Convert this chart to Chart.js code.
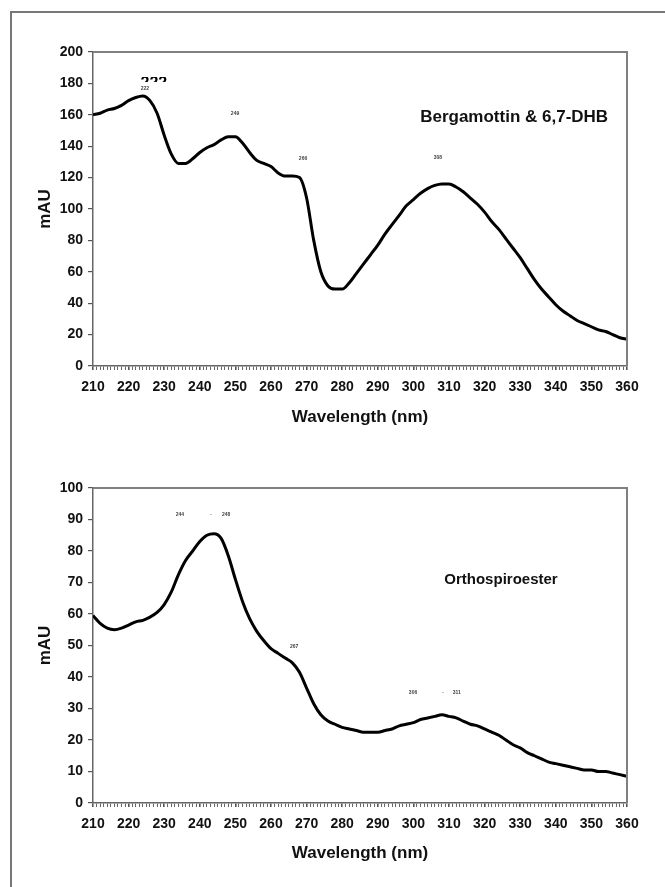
<!DOCTYPE html>
<html>
<head>
<meta charset="utf-8">
<script src="https://cdn.jsdelivr.net/npm/chart.js@4.4.1/dist/chart.umd.min.js"></script>
<style>
  html, body { margin: 0; padding: 0; background: #fff; overflow: hidden; }
  body { width: 665px; height: 887px; position: relative; }
  #frame { position: absolute; left: 10px; top: 11px; width: 700px; height: 900px; border: 2px solid #777; }
  canvas { position: absolute; left: 0; }
  #topChart { top: 30px; }
  #bottomChart { top: 466px; }
</style>
</head>
<body>
<div id="frame"></div>
<canvas id="topChart" width="665" height="410"></canvas>
<canvas id="bottomChart" width="665" height="410"></canvas>
<script>
// wavelengths (nm), shared by both spectra
const wavelengths = [210, 212, 214, 216, 218, 220, 222, 224, 226, 228, 230, 232, 234, 236, 238, 240, 242, 244, 246, 248,
    250, 252, 254, 256, 258, 260, 262, 264, 266, 268, 270, 272, 274, 276, 278, 280, 282, 284, 286, 288,
    290, 292, 294, 296, 298, 300, 302, 304, 306, 308, 310, 312, 314, 316, 318, 320, 322, 324, 326, 328,
    330, 332, 334, 336, 338, 340, 342, 344, 346, 348, 350, 352, 354, 356, 358, 360];

// Bergamottin & 6,7-DHB (mAU)
const topAbs = [160, 161, 163, 164, 166, 169, 171, 172, 169, 161, 147, 135, 129, 129, 132, 136, 139, 141, 144, 146,
    146, 142, 136, 131, 129, 127, 123, 121, 121, 120, 107, 80, 60, 51, 49, 49, 53, 59, 65, 71,
    77, 84, 90, 96, 102, 106, 110, 113, 115, 116, 116, 114, 111, 107, 103, 98, 92, 87, 81, 75,
    69, 62, 55, 49, 44, 39, 35, 32, 29, 27, 25, 23, 22, 20, 18, 17];

// Orthospiroester (mAU)
const bottomAbs = [59.5, 57, 55.5, 55, 55.5, 56.5, 57.5, 58, 59, 60.5, 63, 67, 72.5, 77, 80, 83, 85, 85.5, 84, 78.5,
    71, 64, 58.5, 54.5, 51.5, 49, 47.5, 46, 44.5, 41.5, 36.5, 31.5, 28, 26, 25, 24, 23.5, 23, 22.5, 22.5,
    22.5, 23, 23.5, 24.5, 25, 25.5, 26.5, 27, 27.5, 28, 27.5, 27, 26, 25, 24.5, 23.5, 22.5, 21.5, 20, 18.5,
    17.5, 16, 15, 14, 13, 12.5, 12, 11.5, 11, 10.5, 10.5, 10, 10, 9.5, 9, 8.5];

// small peak labels (text, wavelength, mAU)
const topPeakText = ['222', '249', '266', '308'];
const topPeakX = [224.6, 249.9, 269, 306.9];
const topPeakY = [176.4, 161, 131.8, 133];

const bottomPeakText = ['244', '-', '248', '267', '306', '-', '311'];
const bottomPeakX = [234.4, 243.1, 247.4, 266.5, 299.9, 308.3, 312.2];
const bottomPeakY = [91.4, 91.4, 91.4, 49.5, 35, 35, 35];

const xTickStep = 1;
const topYMax = 200, topYStep = 20;
const bottomYMax = 100, bottomYStep = 10;

const FONT = '"Liberation Sans", Arial, sans-serif';

const overlay = {
    id: 'overlay',
    afterDatasetsDraw(chart, args, o) {
        const { ctx, chartArea: a, scales: { x, y } } = chart;
        ctx.save();
        // top and right edges of the plot box
        ctx.strokeStyle = '#808080';
        ctx.lineWidth = 2;
        ctx.beginPath();
        ctx.moveTo(a.left, a.top);
        ctx.lineTo(a.right, a.top);
        ctx.lineTo(a.right, a.bottom);
        ctx.stroke();

        ctx.textAlign = 'center';
        ctx.textBaseline = 'middle';
        ctx.fillStyle = '#444';
        ctx.font = 'bold 5px ' + FONT;
        o.peakText.forEach((t, i) => {
            ctx.fillText(t, x.getPixelForValue(o.peakX[i]), y.getPixelForValue(o.peakY[i]));
        });

        ctx.fillStyle = '#111';
        ctx.font = 'bold ' + o.nameSize + 'px ' + FONT;
        ctx.fillText(o.name, x.getPixelForValue(o.nameX), y.getPixelForValue(o.nameY));

        if (o.ghost) {
            // half-hidden large label above the first peak
            const gx = x.getPixelForValue(o.ghost.x);
            const gy = y.getPixelForValue(o.ghost.y);
            ctx.beginPath();
            ctx.rect(gx - 20, gy, 40, 5);
            ctx.clip();
            ctx.fillStyle = '#000';
            ctx.font = 'bold 16px ' + FONT;
            ctx.textBaseline = 'top';
            ctx.fillText(o.ghost.text, gx, gy - 2);
        }
        ctx.restore();
    }
};

function makeChart(id, values, yMax, yStep, axisH, padTop, extra) {
    const ctx = document.getElementById(id).getContext('2d');
    return new Chart(ctx, {
        type: 'line',
        data: {
            datasets: [{
                data: wavelengths.map((w, i) => ({ x: w, y: values[i] })),
                borderColor: '#000',
                borderWidth: 3,
                pointRadius: 0,
                fill: false,
                cubicInterpolationMode: 'monotone'
            }]
        },
        options: {
            responsive: false,
            animation: false,
            devicePixelRatio: 1,
            layout: { padding: { top: padTop, right: 38, left: 0, bottom: 0 } },
            plugins: {
                legend: { display: false },
                tooltip: { enabled: false },
                overlay: extra
            },
            scales: {
                x: {
                    type: 'linear',
                    min: 210,
                    max: 360,
                    afterFit: s => { s.height = axisH; },
                    ticks: {
                        stepSize: xTickStep,
                        autoSkip: false,
                        maxRotation: 0,
                        padding: 9,
                        color: '#111',
                        font: { family: FONT, size: 14, weight: 'bold' },
                        callback: v => (v % 10 === 0 ? v : '')
                    },
                    grid: {
                        drawOnChartArea: false,
                        tickLength: 4,
                        color: '#555',
                        lineWidth: c => (c.tick && c.tick.value % 10 === 0 ? 1.6 : 0.9)
                    },
                    border: { color: '#666', width: 1.5 },
                    title: {
                        display: true,
                        text: 'Wavelength (nm)',
                        color: '#111',
                        font: { family: FONT, size: 17, weight: 'bold' },
                        padding: { top: 0, bottom: 12 }
                    }
                },
                y: {
                    min: 0,
                    max: yMax,
                    afterFit: s => { s.width = 93; },
                    ticks: {
                        stepSize: yStep,
                        padding: 5,
                        color: '#111',
                        font: { family: FONT, size: 14, weight: 'bold' }
                    },
                    grid: { drawOnChartArea: false, tickLength: 5, color: '#555', lineWidth: 1.2 },
                    border: { color: '#666', width: 1.5 },
                    title: {
                        display: true,
                        text: 'mAU',
                        color: '#111',
                        font: { family: FONT, size: 17, weight: 'bold' },
                        padding: { top: 35, bottom: 0 }
                    }
                }
            }
        },
        plugins: [overlay]
    });
}

makeChart('topChart', topAbs, topYMax, topYStep, 74, 22, {
    peakText: topPeakText, peakX: topPeakX, peakY: topPeakY,
    name: 'Bergamottin & 6,7-DHB', nameSize: 17, nameX: 328.3, nameY: 158.6,
    ghost: { text: '222', x: 227.1, y: 184 }
});

makeChart('bottomChart', bottomAbs, bottomYMax, bottomYStep, 73, 22, {
    peakText: bottomPeakText, peakX: bottomPeakX, peakY: bottomPeakY,
    name: 'Orthospiroester', nameSize: 15, nameX: 324.6, nameY: 70.8
});
</script>
</body>
</html>
